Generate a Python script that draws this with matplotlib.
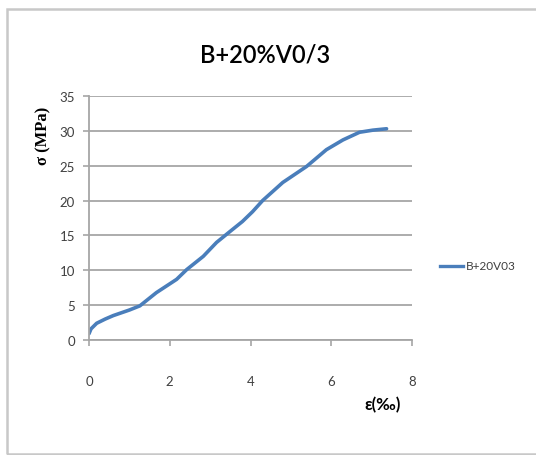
import matplotlib
matplotlib.use("Agg")
import matplotlib.pyplot as plt
from matplotlib.patches import Rectangle
from matplotlib.lines import Line2D

# Stress-strain readings for the B+20V03 specimen
strain = [0.0, 0.05, 0.19, 0.4, 0.6, 1.0, 1.26, 1.67, 2.17, 2.42, 2.83, 3.16, 3.5,
          3.8, 4.05, 4.3, 4.8, 5.39, 5.88, 6.29, 6.7, 7.03, 7.37]
stress = [0.9, 1.6, 2.4, 3.0, 3.5, 4.3, 4.9, 6.8, 8.7, 10.1, 12.0, 14.0, 15.6,
          17.0, 18.4, 20.0, 22.6, 24.9, 27.3, 28.7, 29.8, 30.1, 30.3]

x_ticks = [0, 2, 4, 6, 8]
y_ticks = [0, 5, 10, 15, 20, 25, 30, 35]
series_name = "B+20V03"
title = "B+20%V0/3"

W, H = 536, 456
fig = plt.figure(figsize=(W / 100, H / 100), dpi=100)
fig.patch.set_facecolor("white")

# chart frame
fig.patches.append(Rectangle((7 / W, 1 - 455 / H), 560 / W, 445 / H,
                             transform=fig.transFigure, fill=False,
                             edgecolor="#c8c8c8", linewidth=1.8))

ax = fig.add_axes([89 / W, 1 - 341 / H, (412 - 89) / W, (341 - 97) / H])
ax.set_xlim(0, 8)
ax.set_ylim(0, 35)
ax.set_xticks(x_ticks)
ax.set_yticks(y_ticks)

font = "Lato"
ax.grid(axis="y", color="#a6a6a6", linewidth=1.3)
ax.set_axisbelow(True)
for s in ["top", "right"]:
    ax.spines[s].set_visible(False)
for s in ["left", "bottom"]:
    ax.spines[s].set_color("#a6a6a6")
    ax.spines[s].set_linewidth(1.3)
ax.tick_params(axis="both", color="#a6a6a6", length=4, width=1.2,
               labelsize=9.5, labelcolor="#404040")
ax.tick_params(axis="x", pad=21)
ax.tick_params(axis="y", pad=6)
for lbl in ax.get_xticklabels() + ax.get_yticklabels():
    lbl.set_fontfamily(font)

ax.plot(strain, stress, color="#4a7ebb", linewidth=2.6,
        solid_capstyle="round", solid_joinstyle="round")

fig.text(265 / W, 1 - 55 / H, title, ha="center", va="center",
         fontsize=17, fontweight="semibold", fontfamily=font, color="black")
fig.text(383 / W, 1 - 405 / H, "ε(‰)", ha="center", va="center",
         fontsize=12, fontweight="bold", fontfamily=font, color="black")
fig.text(43 / W, 1 - 136 / H, "σ (MPa)", ha="center", va="center",
         rotation=90, fontsize=12, fontweight="bold",
         fontfamily="Liberation Serif", color="black")

# legend entry
fig.lines.append(Line2D([440 / W, 463 / W], [1 - 267 / H, 1 - 267 / H],
                        transform=fig.transFigure, color="#4a7ebb", linewidth=2.4))
fig.text(466 / W, 1 - 267 / H, series_name, ha="left", va="center",
         fontsize=8.5, fontfamily=font, color="#404040")

fig.savefig("out.png", dpi=100)
